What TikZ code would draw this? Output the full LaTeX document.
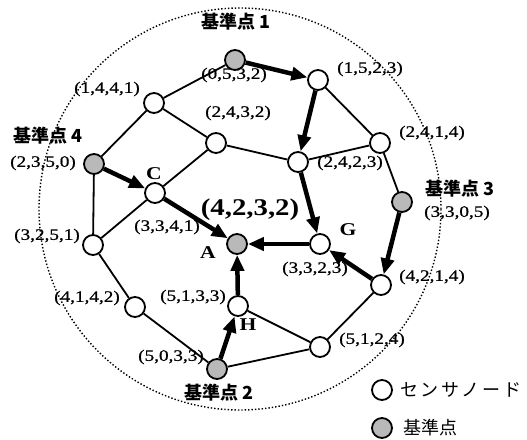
\documentclass[tikz,border=0pt]{standalone}
\usepackage{fontspec}
\setmainfont{Liberation Serif}
\newfontfamily\lab{Liberation Serif}[FakeStretch=1.2,FakeBold=0.8]
\newfontfamily\labb{Liberation Serif Bold}[FakeStretch=1.2]
\newfontfamily\jp{Noto Sans CJK JP}
\newfontfamily\jpsp{Noto Sans CJK JP}[LetterSpace=15]
\usetikzlibrary{arrows.meta}
\begin{document}
\begin{tikzpicture}[x=1pt,y=-1pt,
  sensor/.style={circle,draw,line width=1.8pt,fill=white,minimum size=20pt,inner sep=0pt},
  refnode/.style={circle,draw,line width=1.8pt,fill=gray!55,minimum size=20pt,inner sep=0pt},
  thin/.style={line width=1.8pt},
  thick arrow/.style={line width=4.5pt,-{Triangle[length=16pt,width=13pt]}},
  coord/.style={font=\lab\fontsize{16}{16}\selectfont,inner sep=0pt},
  letter/.style={font=\labb\fontsize{18}{18}\selectfont,inner sep=0pt},
  refl/.style={font=\jp\bfseries\fontsize{18}{18}\selectfont,inner sep=0pt}]
\useasboundingbox (0,0) rectangle (527,439);
\node[circle,draw,dotted,line width=1.4pt,minimum size=402pt,inner sep=0pt] (outer) at (240,209) {};
% nodes
\node[refnode] (r1) at (235,60) {};
\node[sensor] (n1441) at (154,103) {};
\node[sensor] (n2432) at (216,143) {};
\node[refnode] (r4) at (94,164) {};
\node[sensor] (c) at (155,193) {};
\node[sensor] (n1523) at (318,80) {};
\node[sensor] (n2414) at (380,143) {};
\node[sensor] (n2423) at (298,162) {};
\node[refnode] (r3) at (402,202) {};
\node[sensor] (n3251) at (93,245) {};
\node[refnode] (a) at (237,244) {};
\node[sensor] (n4142) at (135,307) {};
\node[sensor] (h) at (238,306) {};
\node[refnode] (r2) at (217,369) {};
\node[sensor] (g) at (320,244) {};
\node[sensor] (n4214) at (381,285) {};
\node[sensor] (n5124) at (320,347) {};
% thin edges
\draw[thin] (r1) -- (n1441);
\draw[thin] (n1441) -- (n2432);
\draw[thin] (n1441) -- (r4);
\draw[thin] (n2432) -- (n2423);
\draw[thin] (n2432) -- (c);
\draw[thin] (n1523) -- (n2414);
\draw[thin] (n2414) -- (n2423);
\draw[thin] (n2414) -- (r3);
\draw[thin] (r4) -- (n3251);
\draw[thin] (c) -- (n3251);
\draw[thin] (n3251) -- (n4142);
\draw[thin] (n4142) -- (r2);
\draw[thin] (h) -- (n5124);
\draw[thin] (r2) -- (n5124);
\draw[thin] (n5124) -- (n4214);
% thick arrows
\draw[thick arrow] (r1) -- (n1523);
\draw[thick arrow] (n1523) -- (n2423);
\draw[thick arrow] (n2423) -- (g);
\draw[thick arrow] (r4) -- (c);
\draw[thick arrow] (c) -- (a);
\draw[thick arrow] (g) -- (a);
\draw[thick arrow] (r3) -- (n4214);
\draw[thick arrow] (n4214) -- (g);
\draw[thick arrow] (h) -- (a);
\draw[thick arrow] (r2) -- (h);
% coordinate labels
\node[coord] (l0532) at (234,75) {(0,5,3,2)};
\node[coord] (l1441) at (107,89) {(1,4,4,1)};
\node[coord] (l2432) at (238,113) {(2,4,3,2)};
\node[coord] (l2350) at (43,163) {(2,3,5,0)};
\node[coord] (l3341) at (167,227) {(3,3,4,1)};
\node[coord] (l3251) at (47,236) {(3,2,5,1)};
\node[coord] (l4142) at (87,298) {(4,1,4,2)};
\node[coord] (l5133) at (193,297) {(5,1,3,3)};
\node[coord] (l5033) at (171,357) {(5,0,3,3)};
\node[coord] (l1523) at (370,69) {(1,5,2,3)};
\node[coord] (l2414) at (432,133) {(2,4,1,4)};
\node[coord] (l2423) at (350,163) {(2,4,2,3)};
\node[coord] (l3305) at (457,213) {(3,3,0,5)};
\node[coord] (l3323) at (315,269) {(3,3,2,3)};
\node[coord] (l4214) at (432,277) {(4,2,1,4)};
\node[coord] (l5124) at (372,340) {(5,1,2,4)};
\node[font=\labb\fontsize{24}{24}\selectfont,inner sep=0pt] (l4232) at (250,210) {(4,2,3,2)};
% letters
\node[letter] (lc) at (154,174) {C};
\node[letter] (la) at (208,253) {A};
\node[letter] (lg) at (348,230) {G};
\node[letter] (lh) at (248,325) {H};
% reference point labels
\node[refl] (lr1) at (236,22) {基準点 1};
\node[refl] (lr4) at (48,136) {基準点 4};
\node[refl] (lr3) at (460,189) {基準点 3};
\node[refl] (lr2) at (219,393) {基準点 2};
% legend
\node[sensor] (legs) at (382,390) {};
\node[refnode] (legr) at (382,428) {};
\node[font=\jpsp\fontsize{18}{18}\selectfont,inner sep=0pt,anchor=west] (legst) at (400,390) {センサノード};
\node[font=\jp\fontsize{18}{18}\selectfont,inner sep=0pt,anchor=west] (legrt) at (403,428) {基準点};
\end{tikzpicture}
\end{document}
